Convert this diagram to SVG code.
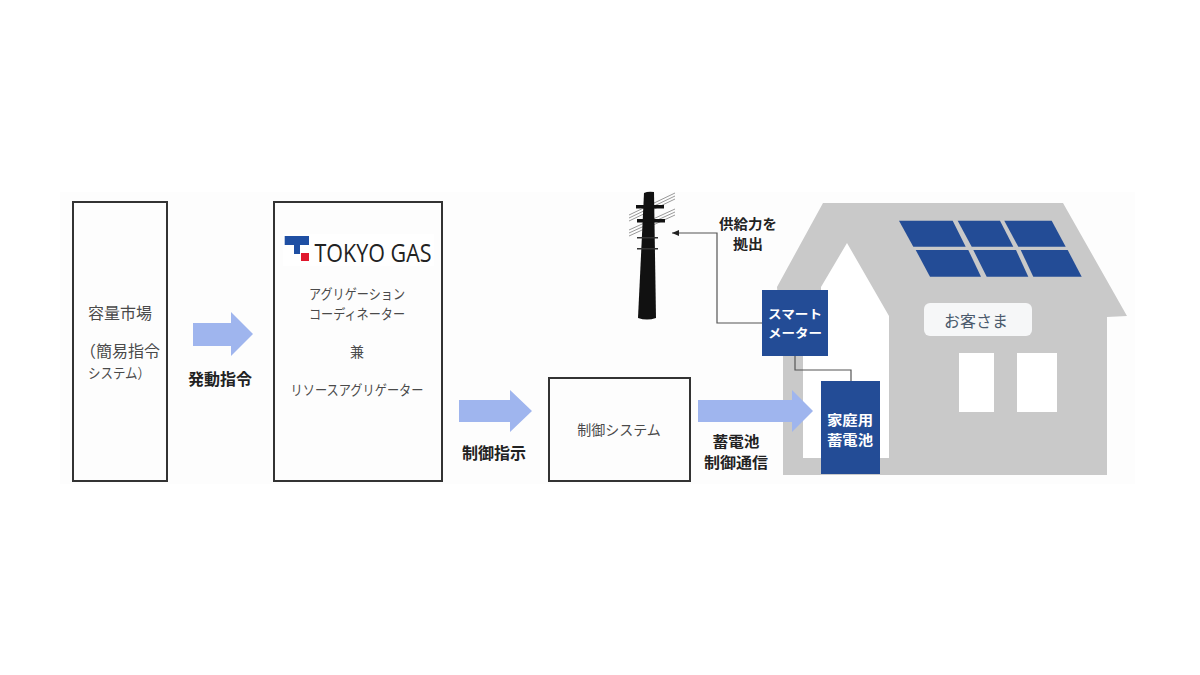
<svg xmlns="http://www.w3.org/2000/svg" width="1200" height="675" viewBox="0 0 1200 675">
<style>
text{font-family:"Noto Sans CJK JP","Liberation Sans",sans-serif;text-anchor:middle;dominant-baseline:central}
.box{fill:#fdfdfd;stroke:#333;stroke-width:2}
.t{font-size:14px;fill:#4a4a4a}
.m{font-size:16px;fill:#4a4a4a}
.n{font-size:14px;fill:#4a4a4a}
.b{font-size:16px;font-weight:700;fill:#222}
.b2{font-size:14.4px;font-weight:700;fill:#222}
.c{font-size:13.6px;font-weight:700;fill:#222}
.w{font-size:12.4px;font-weight:700;fill:#fff}
.w2{font-size:13.4px;font-weight:700;fill:#fff}
.arrow{fill:#9fb5ee}
.blue{fill:#234c96}
.panel{fill:#234c96}
.wire{fill:none;stroke:#555;stroke-width:1.2}
.pw{fill:none;stroke:#999;stroke-width:1}
</style>
<defs><marker id="head" markerWidth="8" markerHeight="8" refX="7" refY="3" orient="auto" markerUnits="userSpaceOnUse"><path d="M0,3 L7,0 L7,6 Z" fill="#222" transform="rotate(180 3.5 3)"/></marker></defs>
<rect width="1200" height="675" fill="#fff"/>
<rect x="60" y="192" width="1075" height="292" fill="#fdfdfd"/>

<g id="house">
<path fill="#c9c9c9" d="M823,203 H1063 L1127,316 L1107,317 V475 H783 V357 L777,287 Z"/>
<path fill="#fff" d="M847,243 L889,316 V458 H803 V350 H821 V287 Z"/>
<rect x="959" y="353" width="35" height="59" fill="#fff"/>
<rect x="1017" y="353" width="40" height="59" fill="#fff"/>
<g class="panel">
<polygon points="899,220.7 952.7,220.7 965.7,246.7 913.3,246.7"/>
<polygon points="957.7,220.7 1000,220.7 1013.3,246.7 971.7,246.7"/>
<polygon points="1004.3,220.7 1051.7,220.7 1065.7,246.7 1018.3,246.7"/>
<polygon points="915.7,250 968.3,250 981,276.7 930,276.7"/>
<polygon points="973.3,250 1016,250 1028.3,276.7 986.7,276.7"/>
<polygon points="1020.7,250 1067.7,250 1081.7,276.7 1033.3,276.7"/>
</g>
<rect x="924" y="303" width="108" height="33" rx="6" fill="#f6f7f8"/>
<text x="976" y="320" font-size="16" fill="#4a5a6c">お客さま</text>
</g>

<g id="pole">
<g class="pw">
<path d="M629,215 L675,193 M629,218 L675,196 M629,221 L675,199"/>
<path d="M629,230 L675,209 M629,233 L675,212 M629,236 L675,215"/>
</g>
<path fill="#111" d="M644,193 Q648,191 654,192 L656,318 Q647,321 638,318 Z"/>
<rect x="636" y="205" width="28" height="3.5" fill="#111"/>
<rect x="637" y="219" width="28" height="3.5" fill="#111"/>
<rect x="637" y="237" width="21" height="1.5" fill="#333"/>
<rect x="637" y="248" width="21" height="1.5" fill="#333"/>
</g>

<g id="connectors">
<path class="wire" d="M762,323 H717 V233 H672" marker-end="url(#head)"/>
<path class="wire" d="M795,356 V370 H851 V381"/>
<polygon class="arrow" points="193,323 231,323 231,312 253,334 231,356 231,346 193,346"/>
<polygon class="arrow" points="459,400 510,400 510,390 532,411 510,432 510,422 459,422"/>
<polygon class="arrow" points="698,400 792,400 792,390 813,411 792,432 792,422 698,422"/>
</g>

<g id="node-market">
<rect class="box" x="73" y="202" width="94" height="279"/>
<text class="m" x="120" y="312">容量市場</text>
<text class="m" x="80" y="350" style="text-anchor:start">（簡易指令</text>
<text class="n" x="88" y="372" textLength="62" lengthAdjust="spacingAndGlyphs" style="text-anchor:start">システム）</text>
</g>

<g id="node-aggregator">
<rect class="box" x="274" y="202" width="168" height="279"/>
<rect x="283" y="234" width="151" height="32" fill="#fff"/>
<rect x="284.7" y="236" width="24.3" height="9" fill="#1f4fa3"/>
<rect x="294" y="245" width="6" height="9" fill="#1f4fa3"/>
<rect x="301" y="253" width="8" height="8" fill="#e0182d"/>
<text x="373" y="252" font-size="25" font-weight="500" textLength="117" lengthAdjust="spacingAndGlyphs" style="font-family:'Open Sans','Liberation Sans',sans-serif" fill="#222">TOKYO GAS</text>
<text class="t" x="357" y="293" textLength="96" lengthAdjust="spacingAndGlyphs">アグリゲーション</text>
<text class="t" x="357" y="313" textLength="96" lengthAdjust="spacingAndGlyphs">コーディネーター</text>
<text class="t" x="357" y="351">兼</text>
<text class="t" x="357" y="389" textLength="133" lengthAdjust="spacingAndGlyphs">リソースアグリゲーター</text>
</g>

<g id="node-control">
<rect class="box" x="549" y="378" width="141" height="103"/>
<text class="t" x="619" y="429">制御システム</text>
</g>

<g id="node-meter">
<rect class="blue" x="762" y="290" width="66" height="66"/>
<text class="w" x="795" y="314" textLength="54" lengthAdjust="spacingAndGlyphs">スマート</text>
<text class="w" x="795" y="333" textLength="54" lengthAdjust="spacingAndGlyphs">メーター</text>
</g>

<g id="node-battery">
<rect class="blue" x="821" y="381" width="59" height="93"/>
<text class="w2" x="850" y="419" textLength="46" lengthAdjust="spacingAndGlyphs">家庭用</text>
<text class="w2" x="850" y="439" textLength="46" lengthAdjust="spacingAndGlyphs">蓄電池</text>
</g>

<g id="labels">
<text class="b" x="220" y="378">発動指令</text>
<text class="b" x="494" y="452">制御指示</text>
<text class="b2" x="736" y="440" textLength="47" lengthAdjust="spacingAndGlyphs">蓄電池</text>
<text class="b2" x="736" y="461.5" textLength="64" lengthAdjust="spacingAndGlyphs">制御通信</text>
<text class="c" x="748" y="223" textLength="58" lengthAdjust="spacingAndGlyphs">供給力を</text>
<text class="c" x="748" y="243" textLength="30" lengthAdjust="spacingAndGlyphs">拠出</text>
</g>
</svg>
